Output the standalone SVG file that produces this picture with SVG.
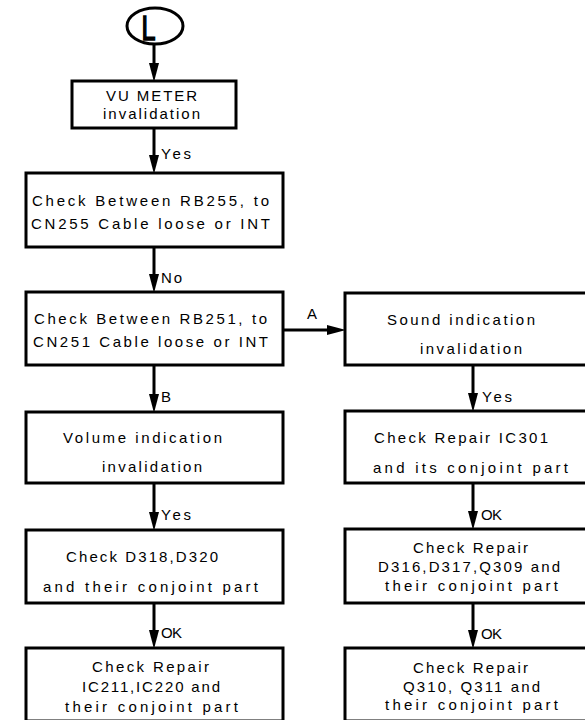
<svg xmlns="http://www.w3.org/2000/svg" width="585" height="720" viewBox="0 0 585 720">
<style>
.box{fill:#fff;stroke:#000;stroke-width:3}
.t{font-family:"Liberation Sans",Arial,sans-serif;font-size:15px;fill:#000}
.c{stroke:#000;stroke-width:3;fill:none}
</style>
<defs>
<marker id="ah" markerUnits="userSpaceOnUse" markerWidth="22" markerHeight="12" refX="8" refY="5" orient="auto">
<path d="M0,0 L19,5 L0,10 z" fill="#000"/>
</marker>
</defs>
<rect width="585" height="720" fill="#fff"/>

<g id="start">
<ellipse cx="155" cy="26" rx="28" ry="18" fill="#fff" stroke="#000" stroke-width="3"/>
<text transform="translate(148.5,40) scale(0.7,1)" text-anchor="middle" font-family="Liberation Sans,Arial,sans-serif" font-size="36" fill="#000" stroke="#000" stroke-width="1.6">L</text>
</g>

<g id="connectors">
<line class="c" x1="154" y1="44" x2="154" y2="71" marker-end="url(#ah)"/>
<line class="c" x1="154" y1="128" x2="154" y2="163" marker-end="url(#ah)"/>
<line class="c" x1="154" y1="247" x2="154" y2="282" marker-end="url(#ah)"/>
<line class="c" x1="154" y1="365" x2="154" y2="402" marker-end="url(#ah)"/>
<line class="c" x1="283" y1="330" x2="335" y2="330" marker-end="url(#ah)"/>
<line class="c" x1="154" y1="483" x2="154" y2="520" marker-end="url(#ah)"/>
<line class="c" x1="154" y1="603" x2="154" y2="638" marker-end="url(#ah)"/>
<line class="c" x1="473" y1="365" x2="473" y2="401" marker-end="url(#ah)"/>
<line class="c" x1="473" y1="483" x2="473" y2="519" marker-end="url(#ah)"/>
<line class="c" x1="473" y1="603" x2="473" y2="638" marker-end="url(#ah)"/>
<text class="t" x="161" y="159" textLength="30">Yes</text>
<text class="t" x="161" y="283" textLength="21">No</text>
<text class="t" x="161" y="402">B</text>
<text class="t" x="307" y="319">A</text>
<text class="t" x="161" y="520" textLength="30">Yes</text>
<text class="t" x="161" y="638" textLength="21">OK</text>
<text class="t" x="482" y="402" textLength="30">Yes</text>
<text class="t" x="481" y="520" textLength="21">OK</text>
<text class="t" x="481" y="639" textLength="21">OK</text>
</g>

<g id="n1">
<rect class="box" x="72" y="81" width="164" height="47"/>
<text class="t" x="106" y="101" textLength="91">VU METER</text>
<text class="t" x="103" y="119" textLength="97">invalidation</text>
</g>

<g id="n2">
<rect class="box" x="26" y="173" width="257" height="74"/>
<text class="t" x="32" y="206" textLength="237">Check Between RB255, to</text>
<text class="t" x="31" y="229" textLength="239">CN255 Cable loose or INT</text>
</g>

<g id="n3">
<rect class="box" x="26" y="292" width="257" height="73"/>
<text class="t" x="34" y="324" textLength="233">Check Between RB251, to</text>
<text class="t" x="33" y="347" textLength="235">CN251 Cable loose or INT</text>
</g>

<g id="n4">
<rect class="box" x="345" y="293" width="260" height="72"/>
<text class="t" x="387" y="325" textLength="148">Sound indication</text>
<text class="t" x="420" y="354" textLength="102">invalidation</text>
</g>

<g id="n5">
<rect class="box" x="345" y="411" width="260" height="72"/>
<text class="t" x="374" y="443" textLength="174">Check Repair IC301</text>
<text class="t" x="373" y="473" textLength="195">and its conjoint part</text>
</g>

<g id="n6">
<rect class="box" x="345" y="529" width="260" height="74"/>
<text class="t" x="413" y="553" textLength="115">Check Repair</text>
<text class="t" x="378" y="572" textLength="182">D316,D317,Q309 and</text>
<text class="t" x="385" y="591" textLength="173">their conjoint part</text>
</g>

<g id="n7">
<rect class="box" x="345" y="648" width="260" height="73"/>
<text class="t" x="413" y="673" textLength="115">Check Repair</text>
<text class="t" x="403" y="692" textLength="137">Q310, Q311 and</text>
<text class="t" x="385" y="710" textLength="173">their conjoint part</text>
</g>

<g id="n8">
<rect class="box" x="26" y="412" width="257" height="71"/>
<text class="t" x="63" y="443" textLength="159">Volume indication</text>
<text class="t" x="102" y="472" textLength="100">invalidation</text>
</g>

<g id="n9">
<rect class="box" x="26" y="530" width="257" height="73"/>
<text class="t" x="66" y="562" textLength="152">Check D318,D320</text>
<text class="t" x="43" y="592" textLength="215">and their conjoint part</text>
</g>

<g id="n10">
<rect class="box" x="26" y="648" width="257" height="73"/>
<text class="t" x="92" y="672" textLength="117">Check Repair</text>
<text class="t" x="82" y="692" textLength="138">IC211,IC220 and</text>
<text class="t" x="65" y="712" textLength="173">their conjoint part</text>
</g>
</svg>
